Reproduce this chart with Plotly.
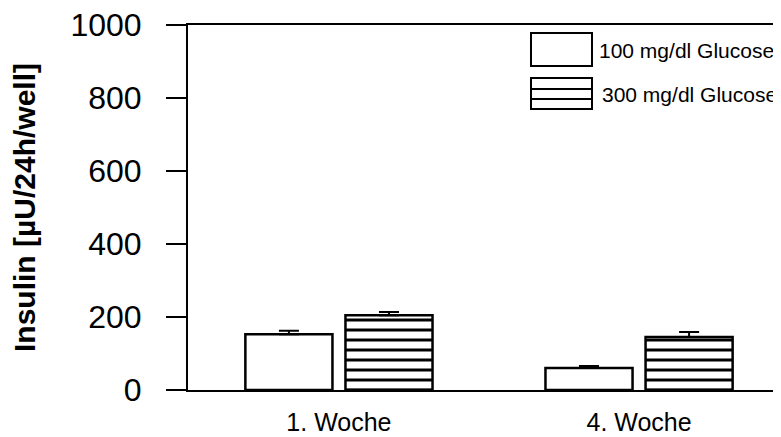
import plotly.graph_objects as go

categories = ["1. Woche", "4. Woche"]
series_names = ["100 mg/dl Glucose", "300 mg/dl Glucose"]
glucose_100 = [153, 60]
glucose_100_err = [9, 6]
glucose_300 = [205, 145]
glucose_300_err = [9, 14]
y_ticks = [0, 200, 400, 600, 800, 1000]

FONT = "Liberation Sans, Arial, sans-serif"
OFF = 8  # default page body margin
W, H = 781 - OFF, 437 - OFF
L, T, B, R = 188 - OFF, 25 - OFF, 47, 0
PW, PH = W - L - R, H - T - B

def px(x):  # page pixel -> paper
    return (x - OFF - L) / PW

def py(y):
    return (H - B - (y - OFF)) / PH

fig = go.Figure()
fig.add_trace(go.Bar(
    x=categories, y=glucose_100, name=series_names[0],
    marker=dict(color="white", line=dict(color="black", width=2.5)),
    error_y=dict(type="data", array=glucose_100_err, arrayminus=[0, 0],
                 symmetric=False, color="black", thickness=2, width=10),
    showlegend=False,
))
fig.add_trace(go.Bar(
    x=categories, y=glucose_300, name=series_names[1],
    marker=dict(color="white", line=dict(color="black", width=2.5),
                pattern=dict(shape="-", size=10, solidity=0.3,
                             fgcolor="black", fgopacity=1, bgcolor="white",
                             fillmode="replace")),
    error_y=dict(type="data", array=glucose_300_err, arrayminus=[0, 0],
                 symmetric=False, color="black", thickness=2, width=10),
    showlegend=False,
))

# legend drawn manually (large boxes as in the original)
shapes = [
    dict(type="rect", xref="paper", yref="paper",
         x0=px(531), x1=px(592), y0=py(66), y1=py(33),
         line=dict(color="black", width=2), fillcolor="white"),
    dict(type="rect", xref="paper", yref="paper",
         x0=px(531), x1=px(592), y0=py(109), y1=py(78),
         line=dict(color="black", width=2), fillcolor="white"),
]
for yy in (89, 99):
    shapes.append(dict(type="line", xref="paper", yref="paper",
                       x0=px(531), x1=px(592), y0=py(yy), y1=py(yy),
                       line=dict(color="black", width=2)))

annotations = [
    dict(text=series_names[0], xref="paper", yref="paper", x=px(597), y=py(50),
         xanchor="left", yanchor="middle", showarrow=False,
         font=dict(family=FONT, size=21, color="black")),
    dict(text=series_names[1], xref="paper", yref="paper", x=px(600), y=py(94),
         xanchor="left", yanchor="middle", showarrow=False,
         font=dict(family=FONT, size=21, color="black")),
]

fig.update_layout(
    width=W, height=H,
    margin=dict(l=L, r=R, t=T, b=B, pad=0, autoexpand=False),
    plot_bgcolor="white", paper_bgcolor="white",
    barmode="group", bargap=0.333, bargroupgap=0.13,
    shapes=shapes, annotations=annotations,
    font=dict(family=FONT, color="black"),
)
fig.update_xaxes(
    range=[-0.503, 1.473], showline=True, linecolor="black", linewidth=2,
    mirror=True, ticks="", showgrid=False, zeroline=False, automargin=False,
    tickfont=dict(family=FONT, size=25, color="black"),
    ticklabelstandoff=9, ticklabeloverflow="allow",
)
fig.update_yaxes(
    range=[0, 1000], tickvals=y_ticks, ticktext=[str(v) for v in y_ticks],
    showline=True, linecolor="black", linewidth=2, mirror=False,
    ticks="outside", ticklen=20, tickwidth=2, tickcolor="black",
    showgrid=False, zeroline=False, automargin=False,
    tickfont=dict(family=FONT, size=32, color="black"),
    ticklabelstandoff=18, ticklabeloverflow="allow",
    title=dict(text="<b>Insulin [µU/24h/well]</b>", standoff=26,
               font=dict(family=FONT, size=30, color="black")),
)

fig.write_html("out.html")
